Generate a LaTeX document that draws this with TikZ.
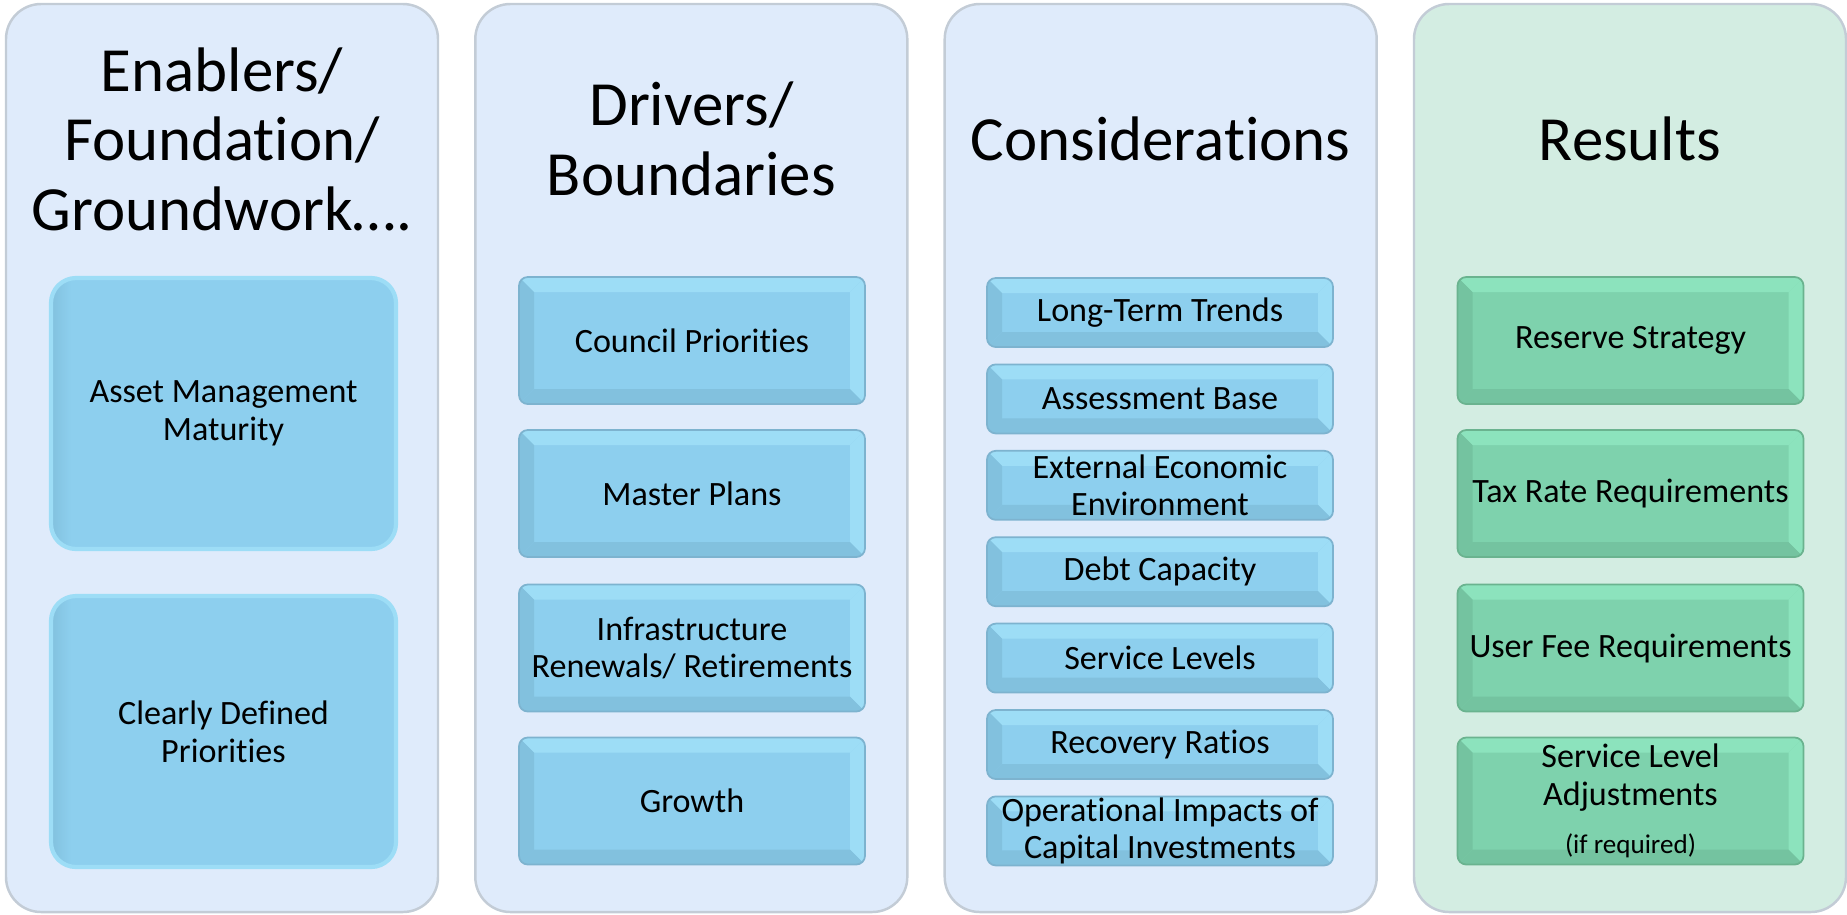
\documentclass[tikz,border=0pt]{standalone}
\usepackage{fontspec}
\setmainfont[Ligatures=NoCommon]{Carlito}
\usepackage{xcolor}
\usetikzlibrary{calc}

\definecolor{panelblue}{HTML}{DFEBFB}
\definecolor{panelgreen}{HTML}{D3EDE2}
\definecolor{paneledge}{HTML}{C3CCD6}
\definecolor{itemblue}{HTML}{8DCFEE}
\definecolor{itembluelight}{HTML}{9DDDF6}
\definecolor{itembluedark}{HTML}{82C1DE}
\definecolor{itemblueedge}{HTML}{7DB3CF}
\definecolor{itemgreen}{HTML}{7ED2AD}
\definecolor{itemgreenlight}{HTML}{8CE3BD}
\definecolor{itemgreendark}{HTML}{74C3A0}
\definecolor{itemgreenedge}{HTML}{6AB38F}

\tikzset{
  panel/.style={rounded corners=0.35cm, draw=paneledge, line width=0.7pt,
    minimum width=4.32cm, minimum height=9.08cm, inner sep=0pt},
  heading/.style={align=center, inner sep=0pt, font=\fontsize{17.9}{19.8}\selectfont},
  item/.style={align=center, inner sep=0pt, minimum width=3.46cm,
    font=\fontsize{9.7}{10.7}\selectfont},
  softbox/.style={item, minimum width=3.45cm, minimum height=2.71cm,
    rounded corners=0.25cm, fill=itemblue, draw=itembluelight, line width=1.2pt,
    path picture={
      \coordinate (nw) at (path picture bounding box.north west);
      \coordinate (sw) at (path picture bounding box.south west);
      \shade[sharp corners, left color=itembluedark, right color=itemblue]
        (nw) rectangle ($(sw)+(0.2,0)$);
    }},
  bevel/.style n args={4}{item, fill=#1, draw=#4, line width=0.5pt, rounded corners=2.5pt,
    path picture={
      \coordinate (nw) at (path picture bounding box.north west);
      \coordinate (ne) at (path picture bounding box.north east);
      \coordinate (sw) at (path picture bounding box.south west);
      \coordinate (se) at (path picture bounding box.south east);
      \fill[sharp corners, #2] (nw) -- (ne) -- ($(ne)+(-0.15,-0.15)$) -- ($(nw)+(0.15,-0.15)$) -- cycle;
      \fill[sharp corners, #2] (ne) -- (se) -- ($(se)+(-0.15,0.15)$) -- ($(ne)+(-0.15,-0.15)$) -- cycle;
      \fill[sharp corners, #3] (nw) -- (sw) -- ($(sw)+(0.15,0.15)$) -- ($(nw)+(0.15,-0.15)$) -- cycle;
      \fill[sharp corners, #3] (sw) -- (se) -- ($(se)+(-0.15,0.15)$) -- ($(sw)+(0.15,0.15)$) -- cycle;
    }},
  bluebox/.style={bevel={itemblue}{itembluelight}{itembluedark}{itemblueedge}},
  greenbox/.style={bevel={itemgreen}{itemgreenlight}{itemgreendark}{itemgreenedge}},
}

\begin{document}
\begin{tikzpicture}
  \useasboundingbox (0,0) rectangle (18.47,-9.14);

  \node[panel, fill=panelblue]  (enablers)  at (2.22,-4.58) {};
  \node[panel, fill=panelblue]  (drivers)   at (6.913,-4.58) {};
  \node[panel, fill=panelblue]  (considers) at (11.607,-4.58) {};
  \node[panel, fill=panelgreen] (results)   at (16.30,-4.58) {};

  \node[heading] (enablers-title)  at (2.22,-1.39) {Enablers/\\Foundation/\\Groundwork….};
  \node[heading] (drivers-title)   at (6.913,-1.39) {Drivers/\\Boundaries};
  \node[heading] (considers-title) at (11.607,-1.39) {Considerations};
  \node[heading] (results-title)   at (16.30,-1.39) {Results};

  \node[softbox] (maturity)   at (2.235,-4.135) {Asset Management\\Maturity};
  \node[softbox] (priorities) at (2.235,-7.315) {Clearly Defined\\Priorities};

  \node[bluebox, minimum height=1.27cm] (council) at (6.92,-3.405) {Council Priorities};
  \node[bluebox, minimum height=1.27cm] (master)  at (6.92,-4.935) {Master Plans};
  \node[bluebox, minimum height=1.27cm] (renewal) at (6.92,-6.48)  {Infrastructure\\Renewals/ Retirements};
  \node[bluebox, minimum height=1.27cm] (growth)  at (6.92,-8.01)  {Growth};

  \node[bluebox, minimum height=0.69cm] (trends)     at (11.60,-3.125) {Long-Term Trends};
  \node[bluebox, minimum height=0.69cm] (assessment) at (11.60,-3.989) {Assessment Base};
  \node[bluebox, minimum height=0.69cm] (economy)    at (11.60,-4.853) {External Economic\\Environment};
  \node[bluebox, minimum height=0.69cm] (debt)       at (11.60,-5.717) {Debt Capacity};
  \node[bluebox, minimum height=0.69cm] (service)    at (11.60,-6.581) {Service Levels};
  \node[bluebox, minimum height=0.69cm] (recovery)   at (11.60,-7.445) {Recovery Ratios};
  \node[bluebox, minimum height=0.69cm] (impacts)    at (11.60,-8.309) {Operational Impacts of\\Capital Investments};

  \node[greenbox, minimum height=1.27cm] (reserve)  at (16.305,-3.405) {Reserve Strategy};
  \node[greenbox, minimum height=1.27cm] (taxrate)  at (16.305,-4.935) {Tax Rate Requirements};
  \node[greenbox, minimum height=1.27cm] (userfee)  at (16.305,-6.48)  {User Fee Requirements};
  \node[greenbox, minimum height=1.27cm] (adjust)   at (16.305,-8.01)
    {Service Level\\Adjustments\\[3pt]{\fontsize{7.7}{9}\selectfont(if required)}};
\end{tikzpicture}
\end{document}
